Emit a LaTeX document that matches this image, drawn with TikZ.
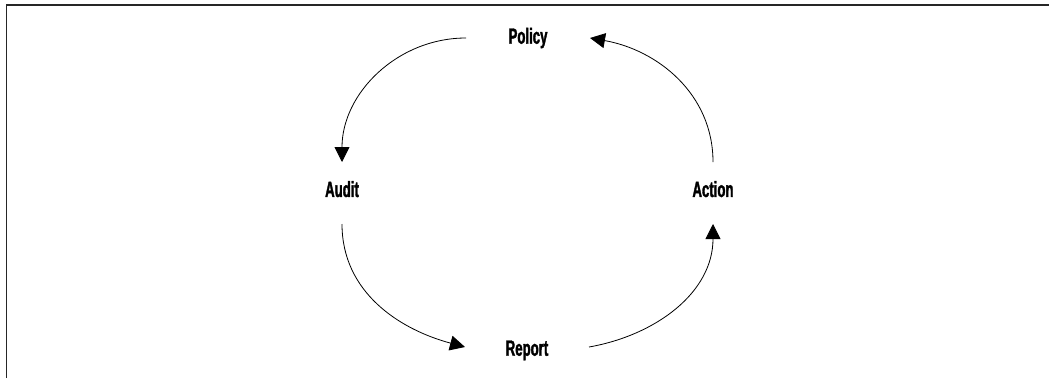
\documentclass[tikz,border=0pt]{standalone}
\usepackage{fontspec}
\usetikzlibrary{arrows.meta}
\newfontfamily\stagefont{Liberation Sans}[FakeStretch=0.6, FakeBold=1.5]

\begin{document}
\begin{tikzpicture}[
    x=1pt, y=-1pt,
    stage/.style={font=\stagefont\bfseries\fontsize{22}{26}\selectfont, inner sep=0pt, outer sep=0pt},
    wide/.style={minimum width=124pt},
    tall/.style={minimum height=62pt, text depth=8pt},
    cycle/.style={-{Triangle[length=15pt,width=15pt]}, line width=0.8pt}
]
\useasboundingbox (0,0) rectangle (1049,378);

% frame
\draw[line width=1.6pt, black!85] (6.5,378) -- (6.5,5) -- (1049,5);

% stages
\node[stage, wide] (policy) at (528,38) {Policy};
\node[stage, tall] (audit) at (342,193) {Audit};
\node[stage, wide, text height=22pt] (report) at (527,347) {Report};
\node[stage, tall] (action) at (713,193) {Action};

% cycle
\draw[cycle] (policy.west) to[out=180, in=90] (audit.north);
\draw[cycle] (audit.south) to[out=-90, in=165] (report.west);
\draw[cycle] (report.east) to[out=10, in=-90] (action.south);
\draw[cycle] (action.north) to[out=90, in=-10] (policy.east);
\end{tikzpicture}
\end{document}
